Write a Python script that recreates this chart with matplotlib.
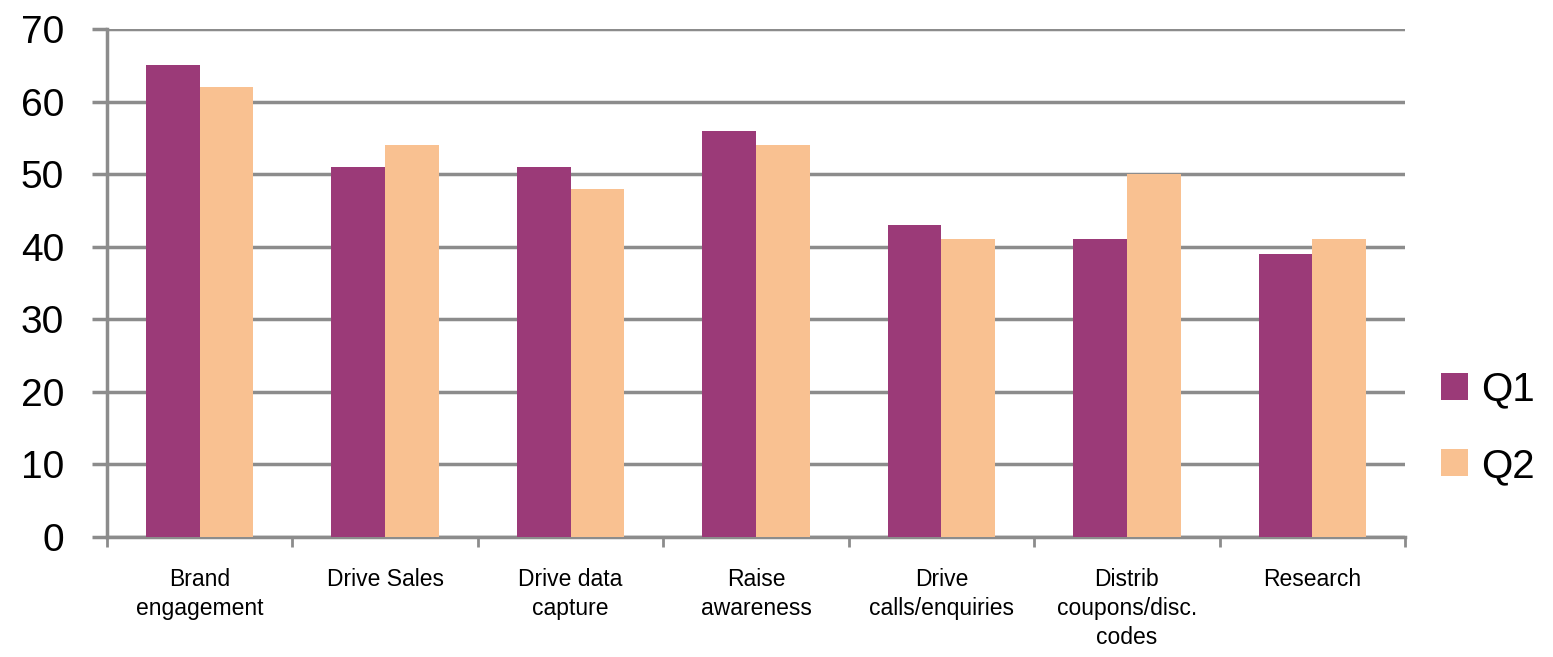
import numpy as np
import matplotlib
matplotlib.use("Agg")
import matplotlib.pyplot as plt
from matplotlib.ticker import FixedLocator

# Data
categories = ["Brand\nengagement", "Drive Sales", "Drive data\ncapture",
              "Raise\nawareness", "Drive\ncalls/enquiries",
              "Distrib\ncoupons/disc.\ncodes", "Research"]
q1 = [65, 51, 51, 56, 43, 41, 39]
q2 = [62, 54, 48, 54, 41, 50, 41]
series_names = ["Q1", "Q2"]
yticks = [0, 10, 20, 30, 40, 50, 60, 70]

COL_Q1 = "#9B3A78"
COL_Q2 = "#F9C191"
GRID = "#8C8C8C"

plt.rcParams["font.family"] = ["Liberation Sans", "DejaVu Sans"]

fig = plt.figure(figsize=(15.53, 6.57), dpi=100)
ax = fig.add_axes([0.0689, 0.1826, 0.8358, 0.7733])

x = np.arange(len(categories))
w = 0.29
ax.bar(x - w / 2, q1, w, color=COL_Q1, label=series_names[0], zorder=3)
ax.bar(x + w / 2, q2, w, color=COL_Q2, label=series_names[1], zorder=3)

ax.set_xlim(-0.5, len(categories) - 0.5)
ax.set_ylim(0, 70)
ax.set_yticks(yticks)
ax.tick_params(axis="y", labelsize=28, length=11, width=2.5, color=GRID, pad=20)
ax.yaxis.grid(True, color=GRID, linewidth=2.5, zorder=0)

# category labels centred, tick marks on the boundaries
ax.set_xticks(x)
ax.set_xticklabels(categories, fontsize=16.5, linespacing=1.35)
ax.tick_params(axis="x", which="major", length=0, pad=22)
ax.xaxis.set_minor_locator(FixedLocator(np.arange(len(categories) + 1) - 0.5))
ax.tick_params(axis="x", which="minor", length=7, width=2, color=GRID)

for s in ("top", "right"):
    ax.spines[s].set_visible(False)
for s in ("left", "bottom"):
    ax.spines[s].set_color(GRID)
    ax.spines[s].set_linewidth(2.5)

ax.legend(loc="center left", bbox_to_anchor=(1.028, 0.215), frameon=False,
          fontsize=29, handlelength=0.65, handleheight=0.65, handletextpad=0.35,
          labelspacing=0.95, borderpad=0, borderaxespad=0)

fig.savefig("out.png", dpi=100)
